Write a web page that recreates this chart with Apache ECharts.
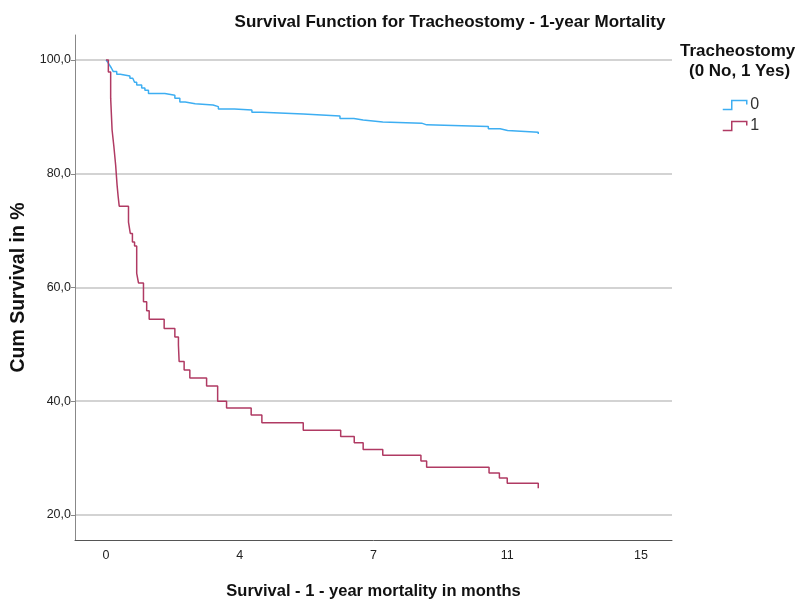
<!DOCTYPE html>
<html>
<head>
<meta charset="utf-8">
<script src="https://cdn.jsdelivr.net/npm/echarts@6/dist/echarts.min.js"></script>
<style>
html,body{margin:0;padding:0;background:#fff;}
#chart{width:801px;height:604px;}
</style>
</head>
<body>
<div id="chart"></div>
<script>
// ---- data ----
var groupNames = ['0', '1'];
// group 0 (no tracheostomy): [months, cumulative survival %]
var survival0 = [
  [0,100],[0.05,99.6],[0.10,99.1],[0.15,98.6],[0.20,98.0],[0.30,97.5],[0.40,97.2],
  [0.67,96.8],[0.75,96.5],[0.80,96.1],[0.86,95.6],[1.00,95.1],[1.09,94.7],[1.19,94.1],
  [1.65,93.8],[1.93,93.3],[2.07,92.6],[2.22,92.3],[2.50,92.1],[3.00,91.8],[3.15,91.4],
  [3.60,91.2],[4.09,90.8],[4.37,90.5],[5.53,90.15],[6.56,89.7],[6.95,89.45],[7.21,89.1],
  [7.76,88.9],[8.85,88.6],[8.99,88.3],[10.72,87.9],[11.05,87.6],[11.26,87.3],[12.12,87.3],[12.12,87.0]
];
// group 1 (tracheostomy)
var survival1 = [
  [0,100],[0.065,97.9],[0.13,93.3],[0.17,87.7],[0.22,84.8],[0.27,81.5],[0.31,78.0],[0.34,76.0],
  [0.37,74.3],[0.63,71.5],[0.68,69.5],[0.74,68.0],[0.80,67.3],[0.86,62.5],[0.91,60.8],
  [1.05,57.5],[1.14,55.9],[1.21,54.4],[1.63,52.8],[1.93,51.3],[2.03,49.9],[2.05,47.0],
  [2.19,45.5],[2.35,44.1],[2.82,42.7],[3.13,40.0],[3.38,38.8],[4.07,37.6],[4.37,36.2],
  [5.53,34.9],[6.58,33.8],[6.96,32.7],[7.21,31.5],[7.76,30.5],[8.83,29.5],[8.99,28.4],
  [10.74,27.4],[11.03,26.5],[11.25,25.6],[12.12,25.6],[12.12,24.7]
];
var xTickValues = [0, 3.75, 7.5, 11.25, 15];
var xTickLabels = ['0', '4', '7', '11', '15'];
var yTickValues = [20, 40, 60, 80, 100];

var colors = ['#3daef2', '#b03a63'];
var stepIcon = 'path://M0,9 L9,9 L9,0 L24,0 L24,4';
var FONT = '"Liberation Sans", Arial, sans-serif';

var chart = echarts.init(document.getElementById('chart'), null, {renderer: 'canvas'});
chart.setOption({
  animation: false,
  backgroundColor: '#ffffff',
  title: {
    text: 'Survival Function for Tracheostomy - 1-year Mortality',
    left: 445, top: 9, textAlign: 'center',
    textStyle: {fontFamily: FONT, fontSize: 17, fontWeight: 'bold', color: '#111'}
  },
  grid: {left: 75, right: 129, top: 35, bottom: 64, containLabel: false, outerBoundsMode: 'none'},
  xAxis: {
    type: 'value', min: -0.87, max: 15.87,
    name: 'Survival - 1 - year mortality in months',
    nameLocation: 'middle', nameGap: 43,
    nameTextStyle: {fontFamily: FONT, fontSize: 16.5, fontWeight: 'bold', color: '#111'},
    axisLine: {show: true, onZero: false, lineStyle: {color: '#555', width: 1}},
    axisTick: {show: false, customValues: xTickValues},
    axisLabel: {
      customValues: xTickValues, margin: 9,
      fontFamily: FONT, fontSize: 12.5, color: '#222',
      formatter: function (v) { var i = xTickValues.indexOf(v); return i >= 0 ? xTickLabels[i] : ''; }
    },
    splitLine: {show: false}
  },
  yAxis: {
    type: 'value', min: 15.6, max: 104.4,
    name: 'Cum Survival in %',
    nameLocation: 'middle', nameGap: 45, nameRotate: 90,
    nameTextStyle: {fontFamily: FONT, fontSize: 19.5, fontWeight: 'bold', color: '#111'},
    axisLine: {show: true, onZero: false, lineStyle: {color: '#888', width: 1}},
    axisTick: {show: true, length: 4, inside: false, customValues: yTickValues, lineStyle: {color: '#888'}},
    axisLabel: {
      customValues: yTickValues, margin: 4,
      fontFamily: FONT, fontSize: 12.5, color: '#222',
      formatter: function (v) { return v.toFixed(1).replace('.', ','); }
    },
    splitLine: {show: true, lineStyle: {color: '#c4c4c4', width: 1.5}}
  },
  legend: {
    orient: 'vertical', left: 722, top: 97, padding: 0, itemWidth: 25, itemHeight: 9, itemGap: 5,
    icon: stepIcon,
    textStyle: {fontFamily: FONT, fontSize: 16, color: '#333', padding: [2, 0, 0, -2]},
    data: [
      {name: groupNames[0], itemStyle: {color: 'rgba(0,0,0,0)', borderColor: colors[0], borderWidth: 1.5}},
      {name: groupNames[1], itemStyle: {color: 'rgba(0,0,0,0)', borderColor: colors[1], borderWidth: 1.5}}
    ]
  },
  graphic: [
    {type: 'text', left: 680, top: 43, style: {text: 'Tracheostomy', font: 'bold 17px "Liberation Sans"', fill: '#111'}},
    {type: 'text', left: 689, top: 63, style: {text: '(0 No, 1 Yes)', font: 'bold 17px "Liberation Sans"', fill: '#111'}}
  ],
  series: [
    {name: groupNames[0], type: 'line', step: 'end', data: survival0, showSymbol: false,
     lineStyle: {color: colors[0], width: 1.5}, itemStyle: {color: colors[0]}},
    {name: groupNames[1], type: 'line', step: 'end', data: survival1, showSymbol: false,
     lineStyle: {color: colors[1], width: 1.5}, itemStyle: {color: colors[1]}}
  ]
});
</script>
</body>
</html>
